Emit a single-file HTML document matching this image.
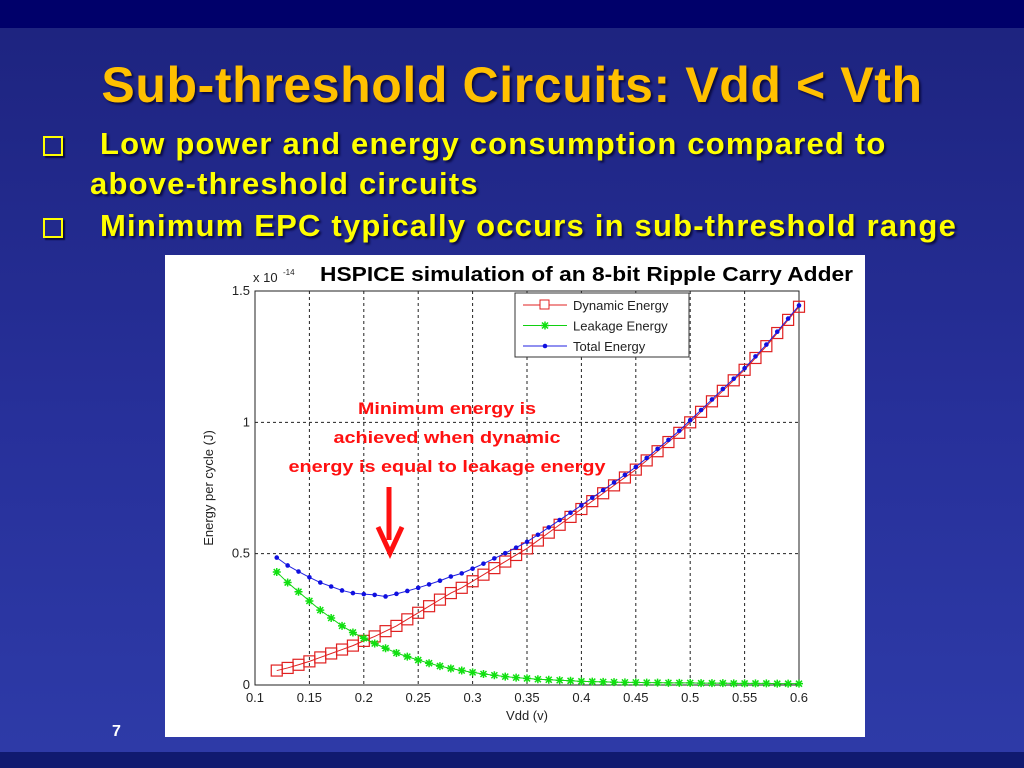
<!DOCTYPE html>
<html><head><meta charset="utf-8"><style>
body{margin:0;width:1024px;height:768px;overflow:hidden;font-family:"Liberation Sans",sans-serif}
#slide{position:relative;width:1024px;height:768px;background:linear-gradient(180deg,#1d237e 0%,#27309a 55%,#2e3ba8 100%)}
.band{position:absolute;left:0;width:1024px;background:#00006a}
.title{position:absolute;left:0;width:1024px;top:56px;text-align:center;font-weight:bold;font-size:50px;letter-spacing:0.6px;color:#ffc000;text-shadow:2px 2px 2px #0a0a40}
.b{position:absolute;font-weight:bold;font-size:31px;letter-spacing:1.2px;color:#ffff00;text-shadow:2px 2px 2px #0a0a40;white-space:nowrap}
.box{position:absolute;width:16px;height:16px;border:2px solid #ffff00;box-shadow:2px 2px 1px #0a0a40}
#chart{position:absolute;left:165px;top:255px;width:700px;height:482px;background:#fff}
</style></head><body>
<div id="slide">
<div class="band" style="top:0;height:28px"></div>
<div class="band" style="top:752px;height:16px;background:#101a70"></div>
<div class="title">Sub-threshold Circuits: Vdd &lt; Vth</div>
<div class="box" style="left:43px;top:136px"></div>
<div class="b" style="left:100px;top:126px">Low power and energy consumption compared to</div>
<div class="b" style="left:90px;top:166px">above-threshold circuits</div>
<div class="box" style="left:43px;top:218px"></div>
<div class="b" style="left:100px;top:208px">Minimum EPC typically occurs in sub-threshold range</div>
<div style="position:absolute;left:112px;top:723px;color:#fff;font-weight:bold;font-size:16px">7</div>
<div id="chart">
<svg id="svg" width="700" height="482" xmlns="http://www.w3.org/2000/svg" font-family="Liberation Sans, sans-serif"></svg>
</div>
</div>
<script>
const xs=[0.12,0.13,0.14,0.15,0.16,0.17,0.18,0.19,0.20,0.21,0.22,0.23,0.24,0.25,0.26,0.27,0.28,0.29,0.30,0.31,0.32,0.33,0.34,0.35,0.36,0.37,0.38,0.39,0.40,0.41,0.42,0.43,0.44,0.45,0.46,0.47,0.48,0.49,0.50,0.51,0.52,0.53,0.54,0.55,0.56,0.57,0.58,0.59,0.60];
const dynamicE=[0.055,0.065,0.077,0.09,0.105,0.12,0.135,0.15,0.168,0.185,0.205,0.225,0.25,0.275,0.30,0.325,0.35,0.37,0.395,0.42,0.445,0.47,0.495,0.52,0.55,0.58,0.61,0.64,0.67,0.70,0.73,0.76,0.79,0.82,0.855,0.89,0.925,0.96,1.0,1.04,1.08,1.12,1.16,1.20,1.245,1.29,1.34,1.39,1.44];
const leakageE=[0.43,0.39,0.355,0.32,0.285,0.255,0.225,0.20,0.178,0.158,0.14,0.122,0.108,0.095,0.083,0.072,0.063,0.055,0.048,0.042,0.037,0.032,0.028,0.025,0.022,0.02,0.018,0.016,0.014,0.013,0.012,0.011,0.01,0.01,0.009,0.009,0.008,0.008,0.008,0.007,0.007,0.007,0.006,0.006,0.006,0.006,0.005,0.005,0.005];
const totalE=[0.485,0.455,0.432,0.41,0.39,0.375,0.36,0.35,0.346,0.343,0.337,0.347,0.358,0.37,0.383,0.397,0.413,0.425,0.443,0.462,0.482,0.502,0.523,0.545,0.572,0.6,0.628,0.656,0.684,0.713,0.742,0.771,0.8,0.83,0.864,0.899,0.933,0.968,1.008,1.047,1.087,1.127,1.166,1.206,1.251,1.296,1.345,1.395,1.445];
const xTicks=[0.1,0.15,0.2,0.25,0.3,0.35,0.4,0.45,0.5,0.55,0.6];
const xTickLabels=["0.1","0.15","0.2","0.25","0.3","0.35","0.4","0.45","0.5","0.55","0.6"];
const yTicks=[0,0.5,1,1.5];
const yTickLabels=["0","0.5","1","1.5"];
const NS="http://www.w3.org/2000/svg";
const svg=document.getElementById('svg');
const L=90,R=634,T=36,B=430;
const X=v=>L+(v-0.1)/0.5*(R-L);
const Y=v=>B-v/1.5*(B-T);
function mk(t,a,txt){const e=document.createElementNS(NS,t);for(const k in a)e.setAttribute(k,a[k]);if(txt!==undefined)e.textContent=txt;svg.appendChild(e);return e;}
let e;
e=mk('rect',{x:L,y:T,width:R-L,height:B-T,fill:'#fff',stroke:'none'});


xTicks.forEach((v,i)=>{
 if(i>0&&i<xTicks.length-1){e=mk('line',{x1:X(v),x2:X(v),y1:T,y2:B,stroke:'#222','stroke-dasharray':'3,3','stroke-width':1});
 
 }
 e=mk('text',{x:X(v),y:B+17,'font-size':13,'text-anchor':'middle',fill:'#222'},xTickLabels[i]);
 
 
});
yTicks.forEach((v,i)=>{
 if(i>0&&i<yTicks.length-1){e=mk('line',{x1:L,x2:R,y1:Y(v),y2:Y(v),stroke:'#222','stroke-dasharray':'3,3','stroke-width':1});
 
 }
 e=mk('text',{x:L-5,y:Y(v)+4,'font-size':13,'text-anchor':'end',fill:'#222'},yTickLabels[i]);
 
 
});
e=mk('rect',{x:L,y:T,width:R-L,height:B-T,fill:'none',stroke:'#222','stroke-width':1});


e=mk('text',{x:L-2,y:T-9,'font-size':13,fill:'#222'},'x 10');


e=mk('text',{x:L+28,y:T-16,'font-size':8,fill:'#222'},'-14');


e=mk('text',{x:(L+R)/2,y:B+35,'font-size':13,'text-anchor':'middle',fill:'#222'},'Vdd (v)');


e=mk('text',{x:48,y:(T+B)/2,'font-size':13,'text-anchor':'middle',fill:'#222',transform:`rotate(-90 48 ${(T+B)/2})`},'Energy per cycle (J)');


e=mk('text',{x:155,y:26,'font-size':20,'font-weight':'bold',textLength:533,lengthAdjust:'spacingAndGlyphs',fill:'#000'},'HSPICE simulation of an 8-bit Ripple Carry Adder');


function series(vals,color,name){
 e=mk('polyline',{points:xs.map((x,i)=>X(x)+','+Y(vals[i])).join(' '),fill:'none',stroke:color,'stroke-width':1});
 
 
}
series(dynamicE,'#e02020','dynamic-energy');
xs.forEach((x,i)=>{e=mk('rect',{x:X(x)-5.5,y:Y(dynamicE[i])-5.5,width:11,height:11,fill:'none',stroke:'#e02020','stroke-width':1.2});

});
series(leakageE,'#10d010','leakage-energy');
xs.forEach((x,i)=>{const cx=X(x),cy=Y(leakageE[i]);
e=mk('path',{d:`M${cx-4} ${cy}H${cx+4}M${cx} ${cy-4}V${cy+4}M${cx-3} ${cy-3}L${cx+3} ${cy+3}M${cx-3} ${cy+3}L${cx+3} ${cy-3}`,stroke:'#10e010','stroke-width':1.5});

});
series(totalE,'#2020e0','total-energy');
xs.forEach((x,i)=>{e=mk('circle',{cx:X(x),cy:Y(totalE[i]),r:2.3,fill:'#1010e0'});

});
e=mk('rect',{x:350,y:38,width:174,height:64,fill:'#fff',stroke:'#333'});


[['Dynamic Energy','#e02020'],['Leakage Energy','#10d010'],['Total Energy','#2020e0']].forEach((it,i)=>{
 const yy=50+i*20.5;
 e=mk('line',{x1:358,x2:402,y1:yy,y2:yy,stroke:it[1]});
 
 
 e=mk('text',{x:408,y:yy+5,'font-size':13,fill:'#222'},it[0]);
 
 
});
mk('rect',{x:375,y:45,width:9,height:9,fill:'#fff',stroke:'#e02020'});
mk('path',{d:'M376 70.5H384M380 66.5V74.5M377 67.5L383 73.5M377 73.5L383 67.5',stroke:'#10e010','stroke-width':1.5});
mk('circle',{cx:380,cy:91,r:2.3,fill:'#1010e0'});
[['Minimum energy is',178],['achieved when dynamic',227],['energy is equal to leakage energy',317]].forEach((t,i)=>{
 e=mk('text',{x:282,y:159+i*29,'font-size':17,'font-weight':'bold','text-anchor':'middle',textLength:t[1],lengthAdjust:'spacingAndGlyphs',fill:'#ff1010'},t[0]);
 
 
});
e=mk('path',{d:'M224 232V285M213 272L225 298L237 272',stroke:'#ff1010','stroke-width':5,fill:'none'});


</script>
</body></html>
